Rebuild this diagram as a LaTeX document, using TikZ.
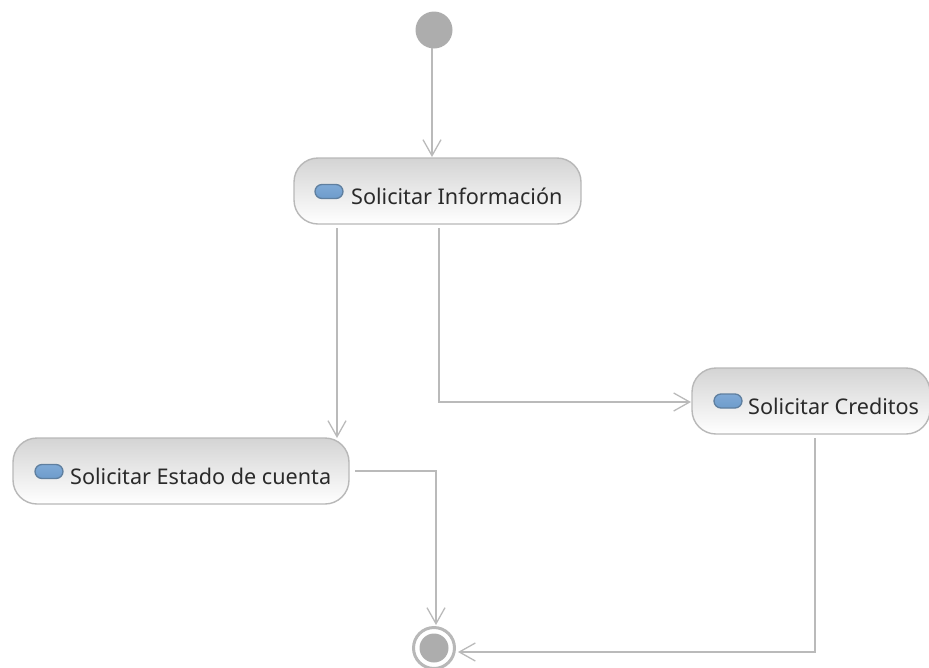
\documentclass[tikz,border=0pt]{standalone}
\usepackage{fontspec}
\setmainfont{Noto Sans}
\usetikzlibrary{arrows.meta,shadings}
\definecolor{linegray}{HTML}{BABABA}
\definecolor{boxedge}{HTML}{B8B8B8}
\definecolor{dotgray}{HTML}{ADADAD}
\definecolor{txtgray}{HTML}{2A2A2A}
\definecolor{icontop}{HTML}{7FA9D6}
\definecolor{iconbot}{HTML}{6E9CCB}
\definecolor{iconedge}{HTML}{5F7F9F}
\tikzset{
  x=1pt,y=1pt,
  action/.style={draw=boxedge,line width=1.4pt,rounded corners=24pt,top color=black!17,bottom color=white,minimum height=66pt,inner sep=0pt},
  icon/.style={draw=iconedge,line width=1.3pt,rounded corners=7pt,top color=icontop,bottom color=iconbot,minimum width=28pt,minimum height=14pt,inner sep=0pt},
  lab/.style={anchor=base west,inner sep=0pt,text=txtgray,font=\fontsize{21.6}{24}\selectfont},
  flow/.style={draw=linegray,line width=1.3pt,-{Straight Barb[length=16pt,width=18pt,line width=1.3pt]}},
  startdot/.style={circle,fill=dotgray,minimum size=37pt,inner sep=0pt},
  endring/.style={circle,draw=boxedge,line width=3pt,fill=white,minimum size=41pt,inner sep=0pt},
  enddot/.style={circle,fill=dotgray,minimum size=29pt,inner sep=0pt}
}
\begin{document}
\begin{tikzpicture}
\useasboundingbox (0,0) rectangle (929,-667);
\node[startdot] (start) at (434,-30) {};
\node[action,minimum width=287pt] (info) at (437.5,-191) {};
\node[action,minimum width=336pt] (estado) at (181,-471) {};
\node[action,minimum width=238pt] (cred) at (811,-401) {};
\node[endring] (endo) at (434,-648) {};
\node[enddot] (endi) at (434,-648) {};
\node[icon] (iconinfo) at (329,-191.5) {};
\node[icon] (iconestado) at (49,-471.5) {};
\node[icon] (iconcred) at (728,-401) {};
\node[lab] (tinfo) at (351,-204.5) {Solicitar Información};
\node[lab] (testado) at (70,-484.5) {Solicitar Estado de cuenta};
\node[lab] (tcred) at (748,-414.5) {Solicitar Creditos};
\coordinate (a1) at (432,-48);
\coordinate (a2) at (432,-157);
\coordinate (b1) at (337,-228);
\coordinate (b2) at (337,-438);
\coordinate (c1) at (439,-228);
\coordinate (c2) at (439,-402);
\coordinate (c3) at (691,-402);
\coordinate (d1) at (355,-471);
\coordinate (d2) at (436,-471);
\coordinate (d3) at (436,-625);
\coordinate (e1) at (815,-438);
\coordinate (e2) at (815,-652);
\coordinate (e3) at (458,-652);
\draw[flow] (a1) -- (a2);
\draw[flow] (b1) -- (b2);
\draw[flow] (c1) -- (c2) -- (c3);
\draw[flow] (d1) -- (d2) -- (d3);
\draw[flow] (e1) -- (e2) -- (e3);
\end{tikzpicture}
\end{document}
